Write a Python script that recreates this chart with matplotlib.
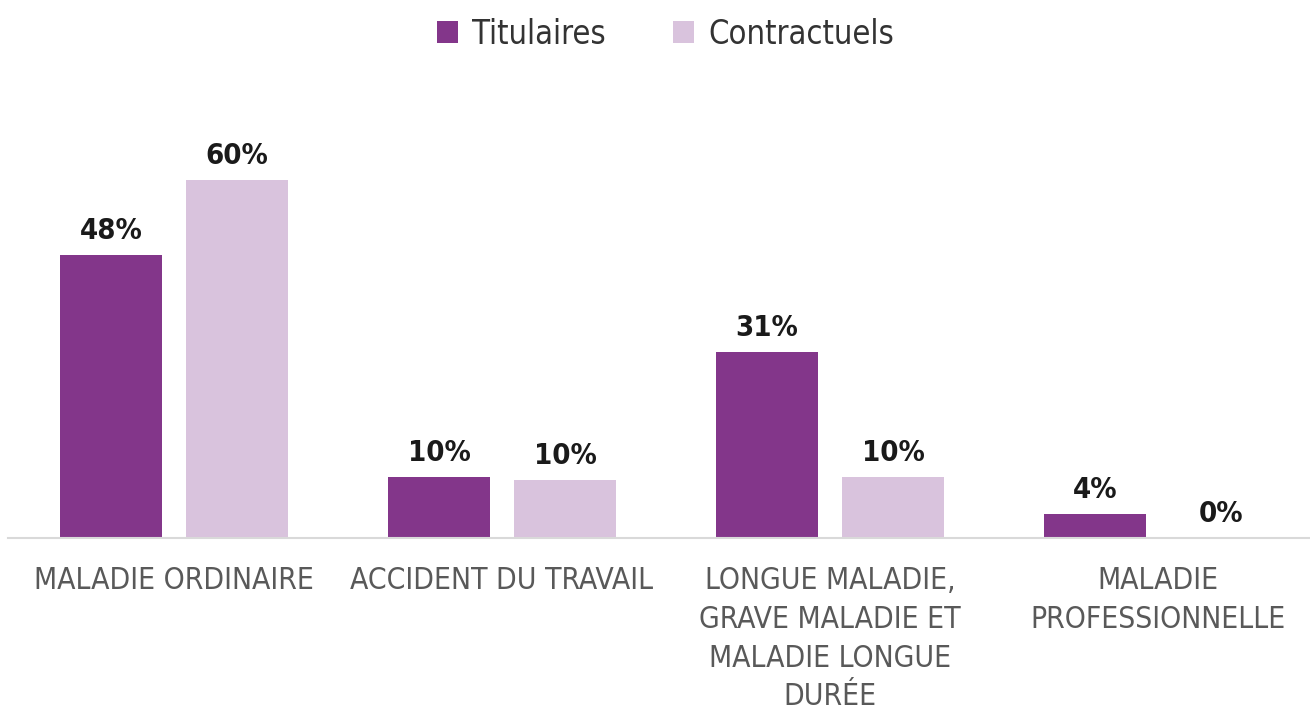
import matplotlib
matplotlib.use("Agg")
import matplotlib.pyplot as plt
import numpy as np

# ------------------------------------------------------------------
# Données
# ------------------------------------------------------------------
categories = [
    "MALADIE ORDINAIRE",
    "ACCIDENT DU TRAVAIL",
    "LONGUE MALADIE,\nGRAVE MALADIE ET\nMALADIE LONGUE\nDURÉE",
    "MALADIE\nPROFESSIONNELLE",
]
titulaires = [47.5, 10.2, 31.2, 4.0]
contractuels = [60.0, 9.7, 10.2, 0.0]
titulaires_labels = ["48%", "10%", "31%", "4%"]
contractuels_labels = ["60%", "10%", "10%", "0%"]

COL_TIT = "#83368A"
COL_CON = "#D9C3DD"

# police condensée (proche de l'original)
plt.rcParams["font.family"] = ["DejaVu Sans"]
plt.rcParams["font.stretch"] = "condensed"

fig = plt.figure(figsize=(13.1, 7.13), dpi=100)
ax = fig.add_axes([0.0061, 0.2454, 0.9939, 0.5858])

x = np.arange(len(categories))
off = 0.192
w = 0.311
b1 = ax.bar(x - off, titulaires, width=w, color=COL_TIT, label="Titulaires")
b2 = ax.bar(x + off, contractuels, width=w, color=COL_CON, label="Contractuels")

# Valeurs au-dessus des barres
for bars, labels in [(b1, titulaires_labels), (b2, contractuels_labels)]:
    for barra, lab in zip(bars, labels):
        ax.annotate(lab, xy=(barra.get_x() + barra.get_width() / 2, barra.get_height()),
                    xytext=(0, 7), textcoords="offset points", ha="center", va="bottom",
                    fontsize=21, fontweight="bold", color="#1a1a1a")

ax.set_xlim(-0.506, 3.463)
ax.set_ylim(0, 70)
ax.set_yticks([])
ax.set_xticks(x)
ax.set_xticklabels(categories, fontsize=21.5, color="#595959", linespacing=1.43)
ax.tick_params(axis="x", length=0, pad=20)
for s in ["top", "right", "left"]:
    ax.spines[s].set_visible(False)
ax.spines["bottom"].set_color("#d9d9d9")
ax.spines["bottom"].set_linewidth(1.5)

fig.legend(loc="center", bbox_to_anchor=(0.508, 0.952), ncol=2, frameon=False,
           fontsize=23.5, handlelength=0.65, handleheight=0.65, handletextpad=0.43,
           columnspacing=2.05, labelcolor="#333333")

plt.savefig("out.png", dpi=100)
